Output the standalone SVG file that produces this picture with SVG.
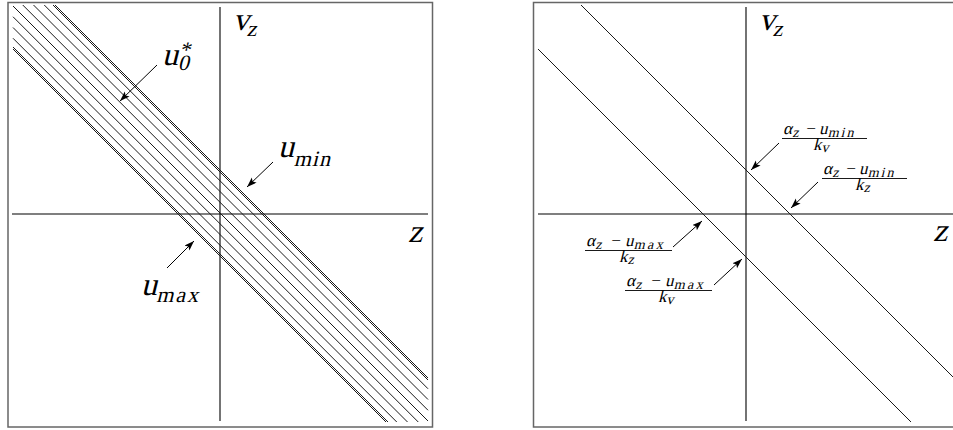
<svg xmlns="http://www.w3.org/2000/svg" width="953" height="430" viewBox="0 0 953 430">
<defs>
<style>
.box{fill:#fff;stroke:#666;stroke-width:1.5}
.axis{stroke:#000;stroke-width:1.1;fill:none}
.ln{stroke:#1a1a1a;stroke-width:1;fill:none}
.arr{stroke:#000;stroke-width:1;fill:none;marker-end:url(#ah)}
.bar{stroke:#000;stroke-width:0.9}
text{font-family:"Liberation Serif",serif;font-style:normal;fill:#000}
.L{font-size:32px}
.S{font-size:22px}
.f{font-size:17px}
.fs{font-size:14px}
</style>
<marker id="ah" markerUnits="userSpaceOnUse" markerWidth="11" markerHeight="8" refX="10" refY="3.5" orient="auto" viewBox="0 0 11 8">
<path d="M0,0 L10,3.5 L0,7 L2.2,3.5 z" fill="#000"/>
</marker>
</defs>

<g id="left-panel">
<rect class="box" x="8" y="2.5" width="424.5" height="424.5"/>
</g>
<g id="right-panel">
<rect class="box" x="533.5" y="2.5" width="440" height="424.5"/>
</g>

<g id="connectors">
<line class="axis" x1="220" y1="7" x2="220" y2="421"/>
<line class="axis" x1="12" y1="214" x2="428" y2="214"/>
<line class="ln" x1="55" y1="5" x2="428" y2="378"/>
<line class="ln" x1="53" y1="5" x2="428" y2="380"/>
<line class="ln" x1="44.25" y1="5" x2="428" y2="388.75"/>
<line class="ln" x1="33.5" y1="5" x2="428" y2="399.5"/>
<line class="ln" x1="22.75" y1="5" x2="428" y2="410.25"/>
<line class="ln" x1="13" y1="6" x2="428" y2="421"/>
<line class="ln" x1="13" y1="16.75" x2="418.25" y2="422"/>
<line class="ln" x1="13" y1="27.5" x2="407.5" y2="422"/>
<line class="ln" x1="13" y1="38.25" x2="396.75" y2="422"/>
<line class="ln" x1="13" y1="47" x2="388" y2="422"/>
<line class="ln" x1="13" y1="49" x2="386" y2="422"/>
<line class="arr" x1="157" y1="65" x2="120" y2="101"/>
<line class="arr" x1="273" y1="162" x2="247" y2="187"/>
<line class="arr" x1="167" y1="268" x2="194" y2="241"/>

<line class="axis" x1="746" y1="7" x2="746" y2="421"/>
<line class="axis" x1="538" y1="214" x2="953" y2="214"/>
<line class="ln" x1="581" y1="5" x2="953" y2="377"/>
<line class="ln" x1="538" y1="49" x2="911" y2="422"/>
<line class="arr" x1="779" y1="143" x2="751" y2="170"/>
<line class="arr" x1="818" y1="182" x2="791" y2="208"/>
<line class="arr" x1="673" y1="247" x2="702" y2="221"/>
<line class="arr" x1="714" y1="285" x2="742" y2="259"/>
</g>

<g id="left-labels">
<g id="label-u0star">
<text class="L" transform="translate(162,65) skewX(-14)">u<tspan class="S" x="17" y="5">0</tspan><tspan class="S" x="15" y="-8">*</tspan></text>
</g>
<g id="label-umin">
<text class="L" transform="translate(278,157) skewX(-14)">u<tspan class="S" x="18" y="9" letter-spacing="1">min</tspan></text>
</g>
<g id="label-umax">
<text class="L" transform="translate(141,295) skewX(-14)">u<tspan class="S" x="17" y="7" letter-spacing="2">max</tspan></text>
</g>
<g id="label-vz-left">
<text class="L" transform="translate(233,30) skewX(-14)">v<tspan class="S" x="15" y="6">z</tspan></text>
</g>
<g id="label-z-left">
<text class="L" transform="translate(408,242) skewX(-14)">z</text>
</g>
</g>

<g id="right-labels">
<g id="label-vz-right">
<text class="L" transform="translate(759,30) skewX(-14)">v<tspan class="S" x="15" y="6">z</tspan></text>
</g>
<g id="label-z-right">
<text class="L" transform="translate(933,241) skewX(-14)">z</text>
</g>

<g id="frac-umin-kv">
<text class="f" transform="translate(783,134) skewX(-14)">α<tspan class="fs" x="10" y="3">z</tspan><tspan x="22" y="0">−</tspan><tspan x="36" y="0">u</tspan><tspan class="fs" x="45.5" y="3" letter-spacing="2">min</tspan></text>
<line class="bar" x1="782" y1="138.5" x2="867" y2="138.5"/>
<text class="f" transform="translate(813,150) skewX(-14)">k<tspan class="fs" x="9" y="2">v</tspan></text>
</g>

<g id="frac-umin-kz">
<text class="f" transform="translate(823,174) skewX(-14)">α<tspan class="fs" x="10" y="3">z</tspan><tspan x="22" y="0">−</tspan><tspan x="36" y="0">u</tspan><tspan class="fs" x="45.5" y="3" letter-spacing="2">min</tspan></text>
<line class="bar" x1="822" y1="178.5" x2="907" y2="178.5"/>
<text class="f" transform="translate(855,190) skewX(-14)">k<tspan class="fs" x="9" y="2">z</tspan></text>
</g>

<g id="frac-umax-kz">
<text class="f" transform="translate(586,246) skewX(-14)">α<tspan class="fs" x="10" y="3">z</tspan><tspan x="24" y="0">−</tspan><tspan x="39" y="0">u</tspan><tspan class="fs" x="48.5" y="3" letter-spacing="2.5">max</tspan></text>
<line class="bar" x1="585" y1="250.5" x2="672" y2="250.5"/>
<text class="f" transform="translate(619,262) skewX(-14)">k<tspan class="fs" x="9" y="2">z</tspan></text>
</g>

<g id="frac-umax-kv">
<text class="f" transform="translate(626,286) skewX(-14)">α<tspan class="fs" x="10" y="3">z</tspan><tspan x="24" y="0">−</tspan><tspan x="39" y="0">u</tspan><tspan class="fs" x="48.5" y="3" letter-spacing="2.5">max</tspan></text>
<line class="bar" x1="625" y1="290.5" x2="712" y2="290.5"/>
<text class="f" transform="translate(658,302) skewX(-14)">k<tspan class="fs" x="9" y="2">v</tspan></text>
</g>
</g>
</svg>
